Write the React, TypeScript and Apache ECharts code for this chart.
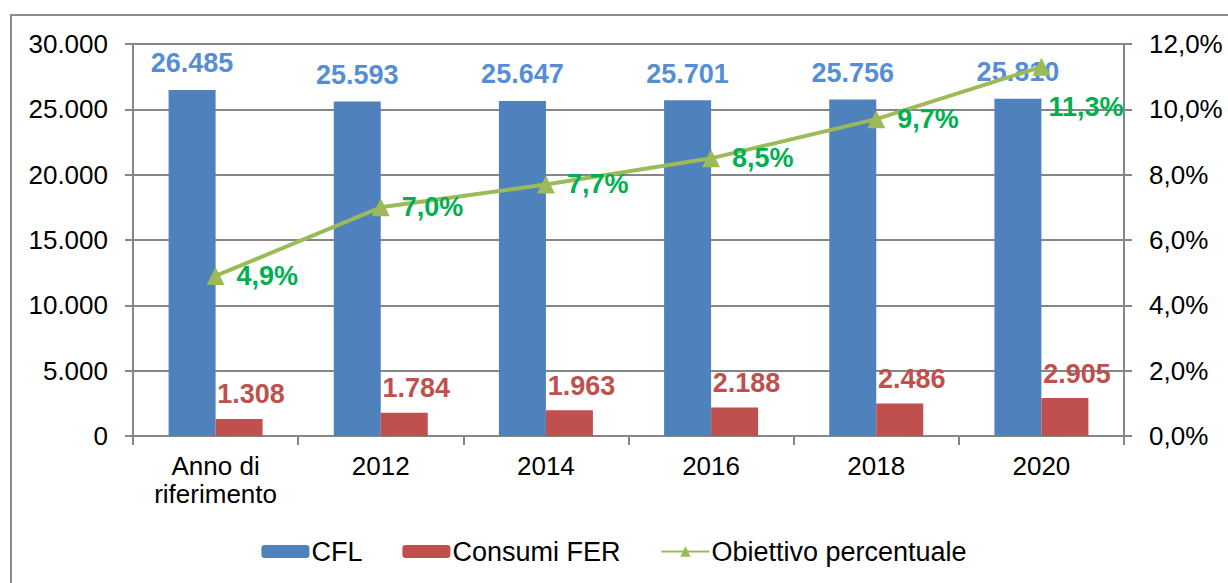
import React, { useEffect, useRef } from "react";
import * as echarts from "echarts";

const categories = ["Anno di\nriferimento", "2012", "2014", "2016", "2018", "2020"];
const cfl = [26485, 25593, 25647, 25701, 25756, 25810];
const fer = [1308, 1784, 1963, 2188, 2486, 2905];
const obiettivo = [4.9, 7.0, 7.7, 8.5, 9.7, 11.3];
const leftTicks = { min: 0, max: 30000, interval: 5000 };
const rightTicks = { min: 0, max: 12, interval: 2 };

const FONT = "Liberation Sans, Arial, sans-serif";
const fmtThousands = (v: number) => String(Math.round(v)).replace(/\B(?=(\d{3})+(?!\d))/g, ".");
const fmtPct = (v: number) => v.toFixed(1).replace(".", ",") + "%";

export default function App() {
  const ref = useRef<HTMLDivElement>(null);
  useEffect(() => {
    if (!ref.current) return;
    const chart = echarts.init(ref.current, null, { renderer: "svg" });
    const axisGray = "#868686";
    chart.setOption({
      animation: false,
      textStyle: { fontFamily: FONT },
      graphic: [
        {
          type: "rect",
          shape: { x: 11, y: 15, width: 1400, height: 700 },
          style: { fill: "none", stroke: "#8c8c8c", lineWidth: 2 },
          silent: true,
          z: -10,
        },
      ],
      grid: { left: 133, right: 104, top: 44, bottom: 147, containLabel: false },
      legend: {
        bottom: 13,
        left: "center",
        itemWidth: 48,
        itemHeight: 13,
        itemGap: 40,
        textStyle: { fontSize: 27, color: "#000", fontFamily: FONT, padding: [0, 0, 0, -3] },
        data: [
          { name: "CFL" },
          { name: "Consumi FER" },
          { name: "Obiettivo percentuale", itemStyle: { color: "#9BBB59" } },
        ],
      },
      xAxis: {
        type: "category",
        data: categories,
        boundaryGap: true,
        axisLine: { show: true, lineStyle: { color: axisGray, width: 2 } },
        axisTick: { show: true, length: 9, lineStyle: { color: axisGray, width: 2 } },
        axisLabel: { color: "#000", fontSize: 26, margin: 16, lineHeight: 28, fontFamily: FONT },
      },
      yAxis: [
        {
          type: "value",
          ...leftTicks,
          axisLine: { show: true, lineStyle: { color: axisGray, width: 2 } },
          axisTick: { show: true, length: 8, lineStyle: { color: axisGray, width: 2 } },
          splitLine: { show: true, lineStyle: { color: axisGray, width: 2 } },
          axisLabel: { color: "#000", fontSize: 26, margin: 25, formatter: fmtThousands, fontFamily: FONT },
        },
        {
          type: "value",
          ...rightTicks,
          position: "right",
          axisLine: { show: true, lineStyle: { color: axisGray, width: 2 } },
          axisTick: { show: true, length: 8, lineStyle: { color: axisGray, width: 2 } },
          splitLine: { show: false },
          axisLabel: { color: "#000", fontSize: 26, margin: 25, formatter: fmtPct, fontFamily: FONT },
        },
      ],
      series: [
        {
          name: "CFL",
          type: "bar",
          data: cfl,
          barWidth: 47,
          barGap: "0%",
          itemStyle: { color: "#4F81BD" },
          label: {
            show: true,
            position: "top",
            distance: 13,
            color: "#558ED5",
            fontWeight: "bold",
            fontSize: 27,
            fontFamily: FONT,
            formatter: (p: any) => fmtThousands(p.value),
          },
        },
        {
          name: "Consumi FER",
          type: "bar",
          data: fer,
          barWidth: 47,
          barGap: "0%",
          itemStyle: { color: "#C0504D" },
          label: {
            show: true,
            position: "top",
            distance: 11,
            offset: [12, 0],
            color: "#C0504D",
            fontWeight: "bold",
            fontSize: 27,
            fontFamily: FONT,
            formatter: (p: any) => fmtThousands(p.value),
          },
        },
        {
          name: "Obiettivo percentuale",
          type: "line",
          yAxisIndex: 1,
          data: obiettivo.map((v, i) =>
            i === obiettivo.length - 1
              ? { value: v, label: { offset: [-14, 40] } }
              : { value: v }
          ),
          symbol: "triangle",
          symbolSize: 18,
          lineStyle: { color: "#9BBB59", width: 4 },
          itemStyle: { color: "#9BBB59" },
          label: {
            show: true,
            position: "right",
            distance: 12,
            color: "#00B050",
            fontWeight: "bold",
            fontSize: 27,
            fontFamily: FONT,
            formatter: (p: any) => fmtPct(p.value),
          },
          z: 5,
        },
      ],
    });
    return () => chart.dispose();
  }, []);
  return (
    <div
      ref={ref}
      style={{ position: "fixed", left: 0, top: 0, width: 1228, height: 583, background: "#fff" }}
    />
  );
}
